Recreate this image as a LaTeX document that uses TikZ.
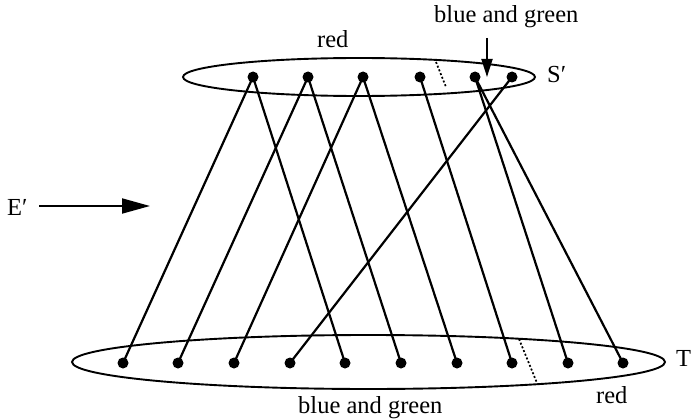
\documentclass[tikz,border=0pt]{standalone}
\usepackage{fontspec}
\setmainfont{Liberation Serif}
\usetikzlibrary{arrows.meta}
\begin{document}
\begin{tikzpicture}[x=1pt,y=-1pt,
  dotnode/.style={circle,fill=black,inner sep=0pt,minimum size=11pt},
  edge/.style={line width=2.2pt},
  ring/.style={line width=1.9pt},
  sep/.style={line width=1.7pt,dash pattern=on 2pt off 2pt},
  lbl/.style={inner sep=0pt,anchor=base west,font=\fontsize{24.5}{28}\selectfont}]
\useasboundingbox (0,0) rectangle (691,420);
% ellipses
\draw[ring] (359,77) ellipse [x radius=176pt, y radius=19pt];
\draw[ring] (368.5,362) ellipse [x radius=296.5pt, y radius=27pt];
% separators
\coordinate (s1) at (436,62); \coordinate (s2) at (446,87);
\coordinate (s3) at (519,339); \coordinate (s4) at (537,383);
\draw[sep] (s1) -- (s2);
\draw[sep] (s3) -- (s4);
% top dots
\foreach \i/\x in {1/253,2/308,3/363,4/420,5/475,6/512}
  \node[dotnode] (t\i) at (\x,77) {};
% bottom dots
\foreach \i/\x in {1/123,2/178,3/234,4/290,5/345,6/401,7/457,8/512,9/568,10/623}
  \node[dotnode] (b\i) at (\x,363) {};
% edges
\foreach \a/\b in {1/1,1/5,2/2,2/6,3/3,3/7,4/8,5/9,5/10,6/4}
  \draw[edge] (t\a.center) -- (b\b.center);
% labels
\node[lbl] (redtop) at (317,48) {red};
\node[lbl] (bgtop) at (434,23) {blue and green};
\node[lbl] (S) at (547,82) {S′};
\node[lbl] (T) at (676,366) {T};
\node[lbl] (E) at (7,215) {E′};
\node[lbl] (bgbot) at (298,413) {blue and green};
\node[lbl] (redbot) at (596,403) {red};
% arrows
\coordinate (a1) at (487,38); \coordinate (a2) at (487,77);
\draw[line width=1.9pt,-{Triangle[length=18pt,width=11pt]}] (a1) -- (a2);
\coordinate (e1) at (39,206); \coordinate (e2) at (150,206);
\draw[line width=1.9pt,-{Triangle[length=28pt,width=15pt]}] (e1) -- (e2);
\end{tikzpicture}
\end{document}
